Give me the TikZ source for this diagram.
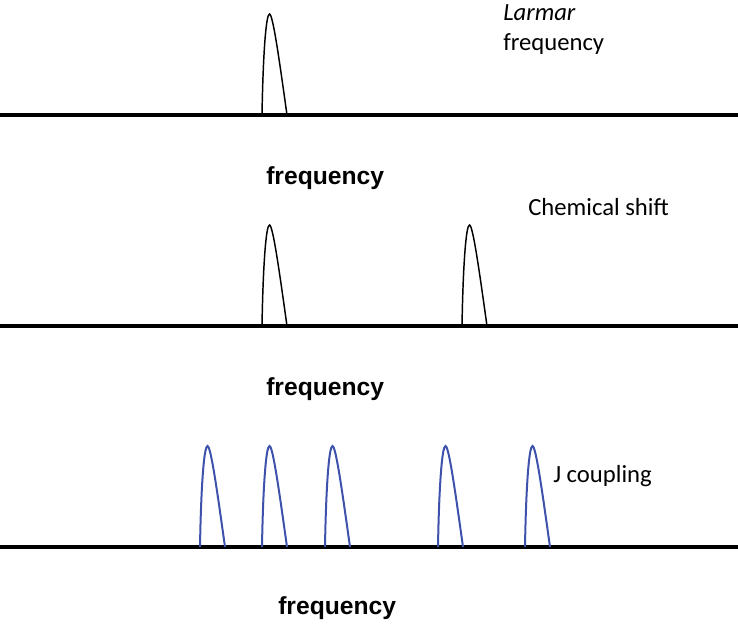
\documentclass[tikz,border=0pt]{standalone}
\usepackage{fontspec}
\setmainfont{Carlito}
\newfontfamily\arialfont{Liberation Sans}
\definecolor{peakblue}{RGB}{62,82,172}
\tikzset{
  axis/.style={line width=2.3pt},
  peakline/.style={line width=1.1pt},
  bluepeak/.style={line width=1.5pt, draw=peakblue},
  note/.style={anchor=base west, inner sep=0pt, font=\fontsize{18.5}{22}\selectfont},
  freqlabel/.style={anchor=base west, inner sep=0pt, font=\arialfont\bfseries\fontsize{18.5}{22}\selectfont}
}
\newcommand\peakat[3][peakline]{%
  \draw[#1] (#2,#3) .. controls (#2+1,#3-60) and (#2+4,#3-101) .. (#2+7.5,#3-101)
    .. controls (#2+11,#3-101) and (#2+18,#3-50) .. (#2+25,#3);}
\begin{document}
\begin{tikzpicture}[x=0.75pt,y=-0.75pt]
  \useasboundingbox (0,0) rectangle (738,626);
  % larmor frequency
  \draw[axis] (0,115) -- (738,115);
  \peakat{262}{115}
  \node[note] (larmar) at (503,20) {\itshape Larmar};
  \node[note] (larmarfreq) at (503,50) {frequency};
  \node[freqlabel] (freq1) at (266,184) {frequency};
  % chemical shift
  \draw[axis] (0,326) -- (738,326);
  \peakat{262}{326}
  \peakat{462}{326}
  \node[note] (shift) at (528,215) {Chemical shift};
  \node[freqlabel] (freq2) at (266,395) {frequency};
  % j coupling
  \draw[axis] (0,547) -- (738,547);
  \foreach \x in {200,262,325,438,525}
    \peakat[bluepeak]{\x}{547};
  \node[note] (jcoupling) at (553,482) {J coupling};
  \node[freqlabel] (freq3) at (278,614) {frequency};
\end{tikzpicture}
\end{document}
